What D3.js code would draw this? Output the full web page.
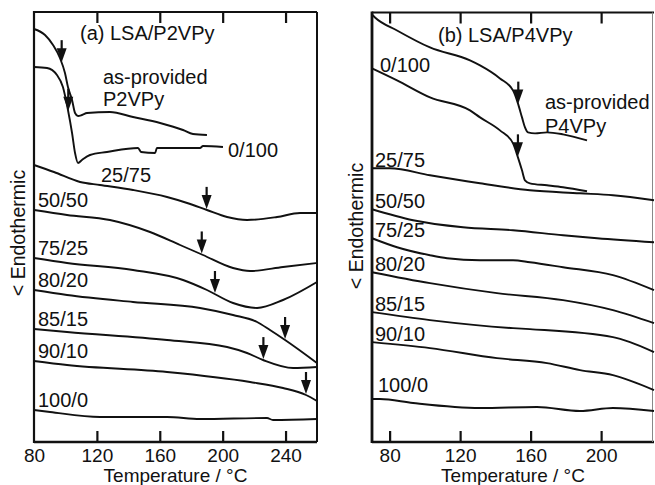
<!DOCTYPE html>
<html><head><meta charset="utf-8">
<script src="https://cdn.jsdelivr.net/npm/d3@7"></script>
<style>
html,body{margin:0;padding:0;background:#fff;}
svg{display:block;font-family:"Liberation Sans",Arial,Helvetica,sans-serif;}
</style></head>
<body>
<svg id="chart" width="655" height="485"></svg>
<script>
// ---------- DATA ----------
// Panel (a) LSA/P2VPy  (temperature °C, heat flow a.u.)
const aNames = ["as-provided P2VPy","0/100","25/75","50/50","75/25","80/20","85/15","90/10","100/0"];
const aT_asprov = [80,87,92.1,96.5,99.7,101.6,104.2,106.1,108,110.5,113.7,128.3,143,160.2,174.8,181.1,190];
const aV_asprov = [41.3,40.7,39.7,38.4,36.9,35.5,34.2,32.9,32.6,32.7,32.9,33.0,32.5,31.9,31.2,30.8,30.7];
const aT_0_100 = [80,88.3,94.6,98.4,101.6,104.2,106.1,108,110.5,115.6,126.4,146.2,148.1,157,158.2,172.9,185.6,187.5,200.2];
const aV_0_100 = [37.5,37.4,36.7,35.5,33.2,30.9,28.9,27.9,28.2,28.7,29.0,29.4,29.0,28.9,29.4,29.4,29.4,29.6,29.5];
const aT_25_75 = [80,92.7,109.3,122,143,164.6,177.4,190,202.8,215.5,234.6,249.2,260];
const aV_25_75 = [27.7,27.0,26.0,25.7,25.2,24.5,23.9,23.2,22.5,22.2,22.5,22.9,22.9];
const aT_50_50 = [80,101,128.3,153.8,172.9,187.5,206.6,217.4,238.4,260];
const aV_50_50 = [23.2,22.7,22.2,21.0,19.7,18.7,17.4,17.1,17.5,17.9];
const aT_75_25 = [80,101,143,174.8,190,206.6,221.9,238.4,260];
const aV_75_25 = [18.4,17.9,17.2,16.2,15.2,13.9,13.4,14.2,16.0];
const aT_80_20 = [80,101,143,185.6,206.6,221.9,230.1,239.7,260];
const aV_80_20 = [15.2,14.7,14.0,13.4,12.7,12.0,11.2,10.2,7.9];
const aT_85_15 = [80,101,164.6,202.8,215.5,225.7,244.8,260];
const aV_85_15 = [11.3,11.0,10.2,9.5,8.9,8.2,7.4,7.5];
const aT_90_10 = [80,101,164.6,217.4,238.4,253,260];
const aV_90_10 = [8.1,7.7,7.0,6.0,5.4,4.7,4.1];
const aT_100_0 = [80,90.2,122,164.6,185.6,228.2,232,260];
const aV_100_0 = [3.2,3.0,2.5,2.5,2.3,2.4,2.2,2.3];
const aArrows = [97.6,101.8,189.8,186.7,195.1,239.7,225.9,253,null]; // Tg arrows (°C)
const aTicks = [80,120,160,200,240];

// Panel (b) LSA/P4VPy
const bNames = ["as-provided P4VPy","0/100","25/75","50/50","75/25","80/20","85/15","90/10","100/0"];
const bT_asprov = [70,71.7,84.2,102.9,125.6,131.3,142.6,150,152.8,155.1,156.8,158.5,162.5,169.3,178.4,192];
const bV_asprov = [42.8,42.5,41.2,39.5,38.2,37.7,36.4,35.2,33.9,32.5,31.5,31.0,30.9,31.0,30.8,30.2];
const bT_0_100 = [70,84.2,102.9,125.6,131.3,142.6,150,152.8,155.1,156.8,159.6,169.3,178.4,192];
const bV_0_100 = [37.4,36.2,34.5,33.2,32.5,31.2,29.9,28.5,27.2,26.2,25.9,25.7,25.5,25.1];
const bT_25_75 = [70,80.2,102.9,131.3,159.6,188,206.7,230];
const bV_25_75 = [27.4,27.4,26.7,25.9,25.2,24.9,24.7,24.2];
const bT_50_50 = [70,93.3,121.6,150,178.4,197.7,230];
const bV_50_50 = [23.3,22.2,21.5,21.2,20.7,20.4,20.0];
const bT_75_25 = [70,84.2,102.9,112.6,131.3,150,159.6,178.4,206.7,230];
const bV_75_25 = [20.4,19.5,18.7,18.4,18.2,18.2,18.0,17.5,16.7,15.2];
const bT_80_20 = [70,102.9,140.9,178.4,206.7,230];
const bV_80_20 = [17.0,15.9,14.9,14.2,13.2,11.9];
const bT_85_15 = [70,102.9,150,159.6,206.7,216.4,230];
const bV_85_15 = [13.0,12.2,11.4,11.3,10.5,10.0,9.0];
const bT_90_10 = [70,102.9,140.9,169.3,188,206.7,230];
const bV_90_10 = [10.0,9.4,8.4,7.9,7.2,6.7,5.2];
const bT_100_0 = [70,74.5,93.3,131.3,163.6,188,206.7,230];
const bV_100_0 = [4.3,4.3,3.9,3.4,3.5,3.1,3.4,3.1];
const bArrows = [153,152.8,null,null,null,null,null,null,null];
const bTicks = [80,120,160,200];

// ---------- LAYOUT ----------
const svg = d3.select("#chart");
const INK = "#111";
const panels = [
  {key:"a", title:"(a) LSA/P2VPy", xDomain:[80,260], left:34, right:317, top:12, bottom:442,
   names:aNames, ticks:aTicks, arrows:aArrows,
   T:[aT_asprov,aT_0_100,aT_25_75,aT_50_50,aT_75_25,aT_80_20,aT_85_15,aT_90_10,aT_100_0],
   V:[aV_asprov,aV_0_100,aV_25_75,aV_50_50,aV_75_25,aV_80_20,aV_85_15,aV_90_10,aV_100_0],
   titlePos:[80,40], yLabelX:25, yLabelY:233, labelDx:4, labelDy:-3,
   special:{0:{lines:["as-provided","P2VPy"],x:103,y:[84,106]}, 1:{x:228,y:157}, 2:{x:101,y:182}},
   rightStroke:2},
  {key:"b", title:"(b) LSA/P4VPy", xDomain:[70,230], left:372, right:654, top:12.5, bottom:442,
   names:bNames, ticks:bTicks, arrows:bArrows,
   T:[bT_asprov,bT_0_100,bT_25_75,bT_50_50,bT_75_25,bT_80_20,bT_85_15,bT_90_10,bT_100_0],
   V:[bV_asprov,bV_0_100,bV_25_75,bV_50_50,bV_75_25,bV_80_20,bV_85_15,bV_90_10,bV_100_0],
   titlePos:[438,42], yLabelX:363, yLabelY:226, labelDx:3, labelDy:-1,
   special:{0:{lines:["as-provided","P4VPy"],x:545,y:[109,133]}, 1:{x:380,y:72}, 8:{x:378,y:392}},
   rightStroke:1}
];

function interp(Ts, Vs, t){
  for(let i=0;i<Ts.length-1;i++){
    if(t>=Ts[i] && t<=Ts[i+1]){ const f=(t-Ts[i])/(Ts[i+1]-Ts[i]); return Vs[i]+f*(Vs[i+1]-Vs[i]); }
  }
  return Vs[Vs.length-1];
}

panels.forEach(p=>{
  const x = d3.scaleLinear().domain(p.xDomain).range([p.left,p.right]);
  const y = d3.scaleLinear().domain([0,43]).range([p.bottom,p.top]);
  const g = svg.append("g");

  // ticks inside (bottom & top)
  const tickLen = 11;
  const innerTicks = p.ticks.filter(t=>x(t)>p.left+2 && x(t)<p.right-2);
  g.append("g").attr("transform",`translate(0,${p.bottom})`)
    .call(d3.axisBottom(x).tickValues(innerTicks).tickSizeInner(-tickLen).tickSizeOuter(0).tickFormat(""))
    .call(s=>{s.select(".domain").remove(); s.selectAll("line").attr("stroke",INK).attr("stroke-width",2.2);});
  g.append("g").attr("transform",`translate(0,${p.top})`)
    .call(d3.axisTop(x).tickValues(innerTicks).tickSizeInner(-tickLen).tickSizeOuter(0).tickFormat(""))
    .call(s=>{s.select(".domain").remove(); s.selectAll("line").attr("stroke",INK).attr("stroke-width",2.2);});
  // tick labels
  g.append("g").attr("transform",`translate(0,${p.bottom})`)
    .call(d3.axisBottom(x).tickValues(p.ticks).tickSize(0).tickPadding(20).tickFormat(d3.format("d")))
    .call(s=>{s.select(".domain").remove();
      s.selectAll("text").attr("fill",INK).attr("font-size","19px").attr("font-family","Liberation Sans, Arial, sans-serif").attr("dy","0");});

  // frame
  g.append("line").attr("x1",p.left).attr("x2",p.right).attr("y1",p.top).attr("y2",p.top).attr("stroke",INK).attr("stroke-width",2.2);
  g.append("line").attr("x1",p.left).attr("x2",p.right).attr("y1",p.bottom).attr("y2",p.bottom).attr("stroke",INK).attr("stroke-width",2.4);
  g.append("line").attr("x1",p.left).attr("x2",p.left).attr("y1",p.top-1).attr("y2",p.bottom+1).attr("stroke",INK).attr("stroke-width",p.key==="b"?2.8:2.2);
  g.append("line").attr("x1",p.right-(p.key==="b"?1.5:0)).attr("x2",p.right-(p.key==="b"?1.5:0)).attr("y1",p.top).attr("y2",p.bottom)
    .attr("stroke",p.key==="b"?"#888":INK).attr("stroke-width",p.rightStroke);

  // curves
  const line = d3.line().x(d=>x(d[0])).y(d=>y(d[1])).curve(d3.curveMonotoneX);
  p.T.forEach((Ts,i)=>{
    const pts = Ts.map((t,j)=>[t,p.V[i][j]]);
    g.append("path").attr("d",line(pts)).attr("fill","none").attr("stroke",INK).attr("stroke-width",1.9).attr("stroke-linejoin","round");
    // arrow
    const at = p.arrows[i];
    if(at!=null){
      const ax = x(at), ay = y(interp(Ts,p.V[i],at)) - 1;
      g.append("line").attr("x1",ax).attr("x2",ax).attr("y1",ay-22).attr("y2",ay-10).attr("stroke",INK).attr("stroke-width",2.2);
      g.append("path").attr("d",`M${ax-5},${ay-14}L${ax+5},${ay-14}L${ax},${ay}Z`).attr("fill",INK);
    }
    // label
    const sp = p.special[i];
    if(sp && sp.lines){
      sp.lines.forEach((ln,k)=>g.append("text").attr("x",sp.x).attr("y",sp.y[k]).attr("font-size","20px").attr("fill",INK).text(ln));
    } else if(sp){
      g.append("text").attr("x",sp.x).attr("y",sp.y).attr("font-size","20px").attr("fill",INK).text(p.names[i]);
    } else {
      g.append("text").attr("x",p.left+p.labelDx).attr("y",y(p.V[i][0])+p.labelDy).attr("font-size","20px").attr("fill",INK).text(p.names[i]);
    }
  });

  // panel title
  g.append("text").attr("x",p.titlePos[0]).attr("y",p.titlePos[1]).attr("font-size","20px").attr("fill",INK).text(p.title);
  // y label
  g.append("text").attr("transform",`translate(${p.yLabelX},${p.yLabelY}) rotate(-90)`).attr("text-anchor","middle")
    .attr("font-size","19.5px").attr("fill",INK).text("< Endothermic");
  // x label
  g.append("text").attr("x",(p.left+p.right)/2).attr("y",482).attr("text-anchor","middle")
    .attr("font-size","19px").attr("fill",INK).text("Temperature / °C");
});
</script>
</body></html>
